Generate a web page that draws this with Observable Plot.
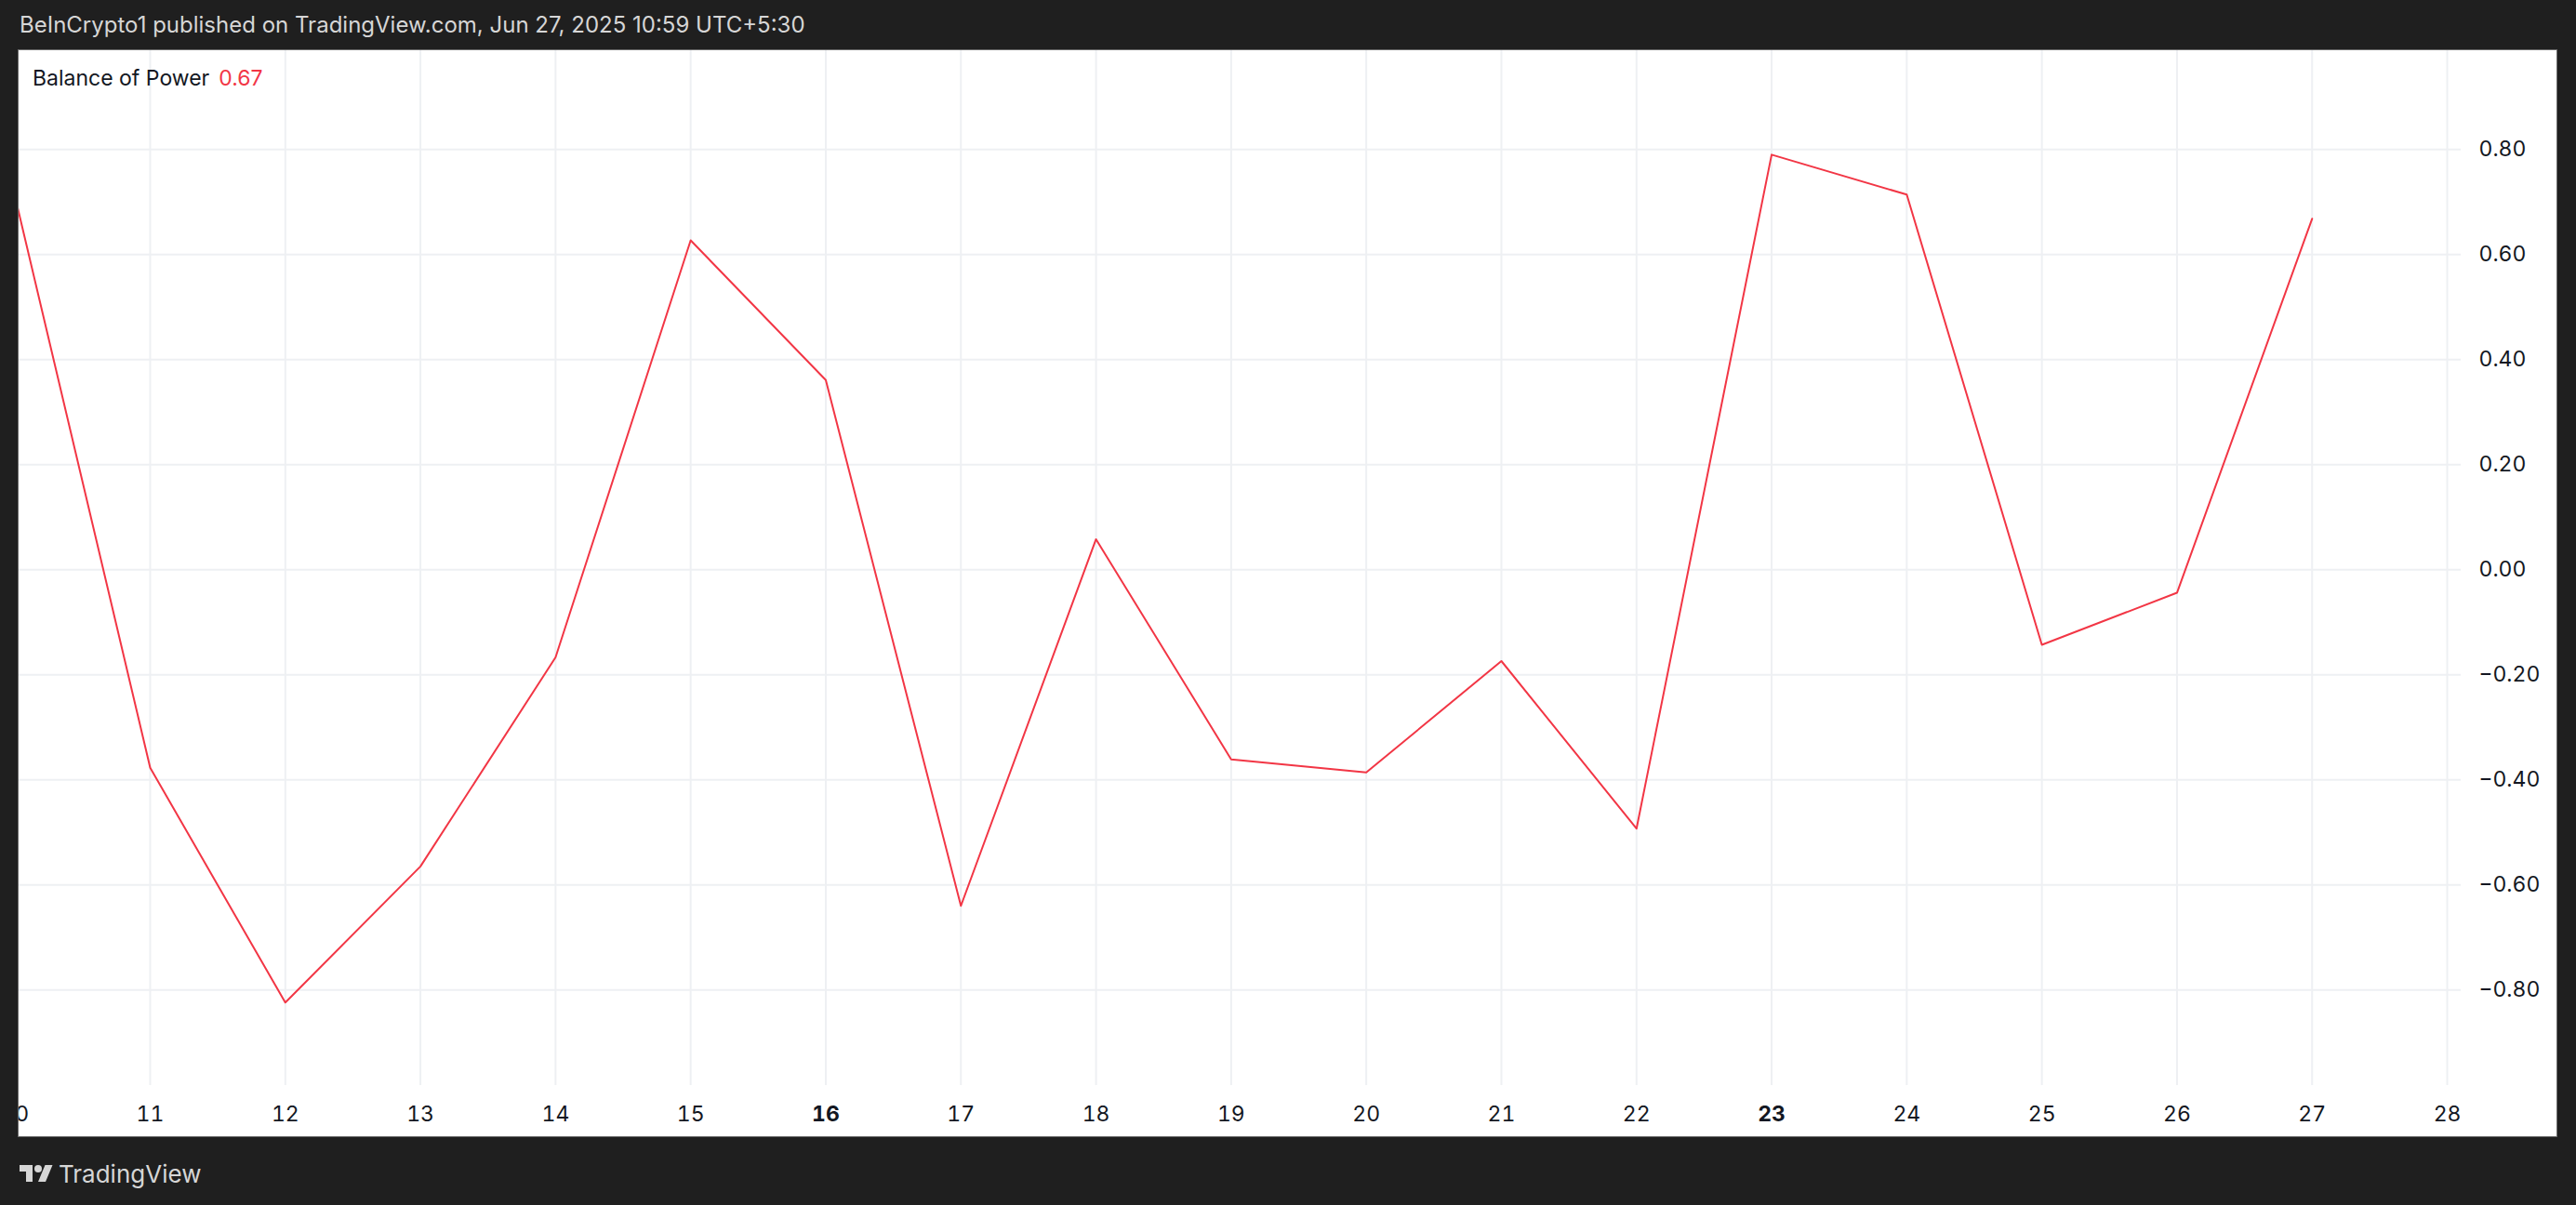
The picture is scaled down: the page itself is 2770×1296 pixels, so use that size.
<!DOCTYPE html>
<html>
<head>
<meta charset="utf-8">
<script src="https://cdn.jsdelivr.net/npm/d3@7"></script>
<script src="https://cdn.jsdelivr.net/npm/@observablehq/plot@0.6"></script>
<style>
  html, body { margin: 0; padding: 0; background: #1f1f1f; width: 2770px; height: 1296px; overflow: hidden; }
  body { position: relative; font-family: Inter, "Noto Sans", sans-serif; }
  #header { position: absolute; left: 21px; top: 12px; font-size: 24px; color: #d6d6d6; white-space: nowrap; }
  #panel { position: absolute; left: 20px; top: 54px; width: 2729px; height: 1168px; overflow: hidden; background: #fff; box-shadow: 0 0 0 1px #6a6a6a; }
  #legend { position: absolute; left: 15px; top: 16px; font-size: 23px; color: #131722; white-space: nowrap; z-index: 2; }
  #legend .val { color: #f23645; margin-left: 10px; }
  #footer { position: absolute; left: 21px; top: 1247px; display: flex; align-items: center; color: #d6d6d6; font-size: 26px; }
  #footer svg { margin-right: 6px; }
</style>
</head>
<body>
<div id="header">BeInCrypto1 published on TradingView.com, Jun 27, 2025 10:59 UTC+5:30</div>
<div id="panel">
  <div id="legend">Balance of Power<span class="val">0.67</span></div>
  <div id="chart"></div>
</div>
<div id="footer">
  <svg width="36" height="28" viewBox="0 0 36 28"><path d="M14 22H7V11H0V4h14v18z" fill="#d6d6d6"/><circle cx="20" cy="8" r="4" fill="#d6d6d6"/><path d="M28 22h-8l7.5-18h8L28 22z" fill="#d6d6d6"/></svg>
  <span>TradingView</span>
</div>
<script>
const days = [10, 11, 12, 13, 14, 15, 16, 17, 18, 19, 20, 21, 22, 23, 24, 25, 26, 27];
const bop = [0.71, -0.377, -0.824, -0.565, -0.167, 0.627, 0.361, -0.640, 0.058, -0.361, -0.386, -0.174, -0.493, 0.790, 0.714, -0.143, -0.044, 0.668];
const xTicks = [10, 11, 12, 13, 14, 15, 16, 17, 18, 19, 20, 21, 22, 23, 24, 25, 26, 27, 28];
const yTicks = [-0.8, -0.6, -0.4, -0.2, 0, 0.2, 0.4, 0.6, 0.8];
const boldDays = [16, 23];

const data = days.map((d, i) => ({day: d, bop: bop[i]}));
const fmt = d3.format(".2f");

const chart = Plot.plot({
  width: 2729,
  height: 1168,
  marginLeft: 0,
  marginRight: 103,
  marginTop: 0,
  marginBottom: 55,
  style: {background: "#ffffff", fontFamily: "Inter, 'Noto Sans', sans-serif", fontSize: "23px", color: "#131722", overflow: "hidden"},
  x: {domain: [10.0296, 28.103], axis: null, label: null},
  y: {domain: [-0.982, 0.988], axis: null, label: null},
  marks: [
    Plot.gridX(xTicks, {stroke: "#eef0f3", strokeOpacity: 1, strokeWidth: 2}),
    Plot.gridY(yTicks, {stroke: "#eef0f3", strokeOpacity: 1, strokeWidth: 2}),
    Plot.axisX(xTicks, {anchor: "bottom", label: null, tickSize: 0, tickPadding: 22, tickFormat: d => String(d), fill: "#131722", fontSize: 23}),
    Plot.axisY(yTicks, {anchor: "right", label: null, tickSize: 0, tickPadding: 19, tickFormat: fmt, fill: "#131722", fontSize: 23, textAnchor: "start"}),
    Plot.line(data, {x: "day", y: "bop", stroke: "#f23645", strokeWidth: 2, clip: true})
  ]
});
d3.select(chart).selectAll("[aria-label='x-axis tick label'] text")
  .filter(function() { return boldDays.includes(+this.textContent); })
  .attr("font-weight", "bold");
document.getElementById("chart").appendChild(chart);
</script>
</body>
</html>
